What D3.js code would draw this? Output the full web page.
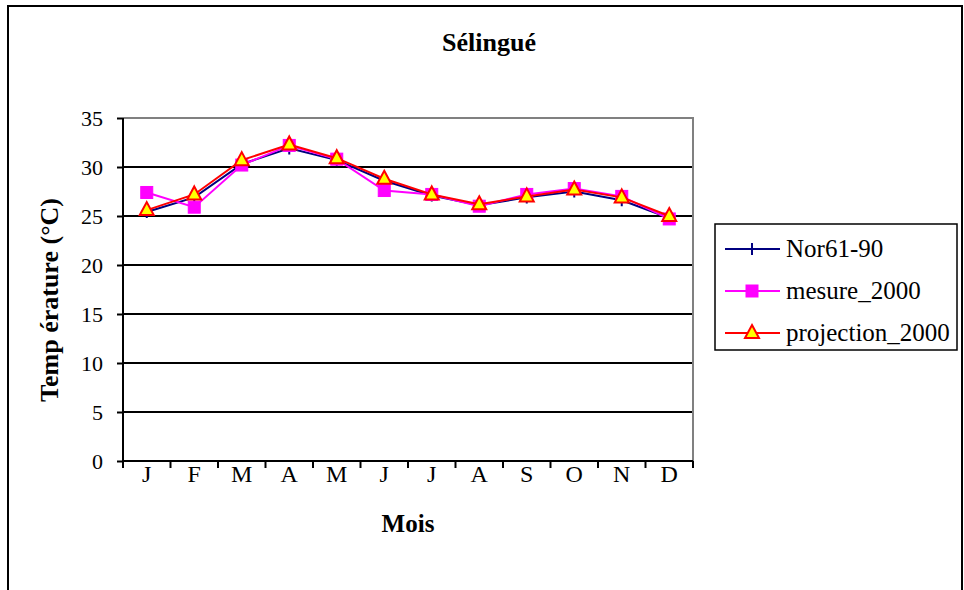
<!DOCTYPE html>
<html>
<head>
<meta charset="utf-8">
<script src="https://cdn.jsdelivr.net/npm/d3@7"></script>
<style>
  html, body { margin: 0; padding: 0; background: #fff; }
  svg { display: block; }
</style>
</head>
<body>
<svg id="chart" width="964" height="590"></svg>
<script>
// Monthly mean temperatures at Sélingué
const months = ["J", "F", "M", "A", "M", "J", "J", "A", "S", "O", "N", "D"];
const nor6190 = [25.4, 26.9, 30.3, 31.9, 30.7, 28.6, 27.1, 26.1, 26.9, 27.5, 26.6, 24.8];
const mesure2000 = [27.4, 25.9, 30.2, 32.2, 30.8, 27.6, 27.2, 26.0, 27.2, 27.8, 27.0, 24.7];
const projection2000 = [25.6, 27.2, 30.7, 32.3, 30.9, 28.8, 27.2, 26.2, 27.0, 27.7, 26.9, 25.0];
const yTicks = [0, 5, 10, 15, 20, 25, 30, 35];
const seriesNames = ["Nor61-90", "mesure_2000", "projection_2000"];

const FONT = '"Liberation Serif"';
const svg = d3.select("#chart");

// outer frame
svg.append("rect")
  .attr("x", 8).attr("y", 6).attr("width", 954).attr("height", 600)
  .attr("fill", "#fff").attr("stroke", "#000").attr("stroke-width", 2);

const plot = { left: 123, right: 693, top: 118, bottom: 461 };

const x = d3.scaleBand().domain(d3.range(months.length))
  .range([plot.left, plot.right]).padding(0);
const y = d3.scaleLinear().domain([0, 35]).range([plot.bottom, plot.top]);

// horizontal gridlines
svg.append("g").selectAll("line")
  .data(yTicks.filter(t => t > 0 && t < 35))
  .join("line")
  .attr("x1", plot.left).attr("x2", plot.right)
  .attr("y1", d => y(d)).attr("y2", d => y(d))
  .attr("stroke", "#000").attr("stroke-width", 2);

// grey plot-area border (top and right)
svg.append("path")
  .attr("d", `M${plot.left},${plot.top}H${plot.right}V${plot.bottom}`)
  .attr("fill", "none").attr("stroke", "#808080").attr("stroke-width", 2);

// y axis
const yAxis = d3.axisLeft(y).tickValues(yTicks).tickSize(6).tickPadding(14);
const gy = svg.append("g").attr("transform", `translate(${plot.left},0)`).call(yAxis);
gy.select(".domain").attr("stroke", "#000").attr("stroke-width", 2).attr("d", `M0,${plot.top}V${plot.bottom}`);
gy.selectAll(".tick line").attr("stroke", "#000").attr("stroke-width", 2);
gy.selectAll(".tick text")
  .attr("fill", "#000").attr("dy", "0.34em")
  .style("font-family", FONT).style("font-size", "22px");

// x axis: ticks sit at category boundaries
svg.append("line")
  .attr("x1", plot.left).attr("x2", plot.right)
  .attr("y1", plot.bottom).attr("y2", plot.bottom)
  .attr("stroke", "#000").attr("stroke-width", 2);
svg.append("g").selectAll("line")
  .data(d3.range(months.length + 1))
  .join("line")
  .attr("x1", d => d < months.length ? x(d) : plot.right)
  .attr("x2", d => d < months.length ? x(d) : plot.right)
  .attr("y1", plot.bottom).attr("y2", plot.bottom + 7)
  .attr("stroke", "#000").attr("stroke-width", 2);
svg.append("g").selectAll("text")
  .data(months)
  .join("text")
  .attr("x", (d, i) => x(i) + x.bandwidth() / 2)
  .attr("y", 482)
  .attr("text-anchor", "middle")
  .style("font-family", FONT).style("font-size", "24px")
  .text(d => d);

// titles
svg.append("text")
  .attr("x", 489).attr("y", 51)
  .attr("text-anchor", "middle")
  .style("font-family", FONT).style("font-size", "26px").style("font-weight", "bold")
  .text("Sélingué");
svg.append("text")
  .attr("x", (plot.left + plot.right) / 2).attr("y", 532)
  .attr("text-anchor", "middle")
  .style("font-family", FONT).style("font-size", "25px").style("font-weight", "bold")
  .text("Mois");
svg.append("text")
  .attr("transform", "translate(58,300) rotate(-90)")
  .attr("text-anchor", "middle")
  .style("font-family", FONT).style("font-size", "26px").style("font-weight", "bold")
  .text("Temp érature (°C)");

// series
const cx = i => x(i) + x.bandwidth() / 2;
const line = d3.line().x((d, i) => cx(i)).y(d => y(d));

const series = [
  { name: seriesNames[0], values: nor6190, color: "#000080", marker: "plus" },
  { name: seriesNames[1], values: mesure2000, color: "#ff00ff", marker: "square" },
  { name: seriesNames[2], values: projection2000, color: "#ff0000", marker: "triangle" }
];

function drawMarker(g, type, color) {
  if (type === "plus") {
    g.append("path").attr("d", "M-5,0H5M0,-6V6")
      .attr("stroke", color).attr("stroke-width", 2);
  } else if (type === "square") {
    g.append("rect").attr("x", -6).attr("y", -6).attr("width", 12).attr("height", 12)
      .attr("fill", color).attr("stroke", color).attr("stroke-width", 1);
  } else {
    g.append("path").attr("d", "M0,-8L7,5H-7Z")
      .attr("fill", "#ffff00").attr("stroke", color).attr("stroke-width", 2)
      .attr("stroke-linejoin", "miter");
  }
}

series.forEach(s => {
  const g = svg.append("g");
  g.append("path").datum(s.values)
    .attr("d", line).attr("fill", "none")
    .attr("stroke", s.color).attr("stroke-width", 2);
  g.selectAll("g.m").data(s.values).join("g")
    .attr("class", "m")
    .attr("transform", (d, i) => `translate(${cx(i)},${y(d)})`)
    .each(function () { drawMarker(d3.select(this), s.marker, s.color); });
});

// legend
const legend = svg.append("g");
legend.append("rect")
  .attr("x", 715).attr("y", 224).attr("width", 242).attr("height", 126)
  .attr("fill", "#fff").attr("stroke", "#000").attr("stroke-width", 1.5);
series.forEach((s, i) => {
  const ly = 249 + i * 42;
  legend.append("line")
    .attr("x1", 725).attr("x2", 780).attr("y1", ly).attr("y2", ly)
    .attr("stroke", s.color).attr("stroke-width", 2);
  const mg = legend.append("g").attr("transform", `translate(752,${ly})`);
  drawMarker(mg, s.marker, s.color);
  legend.append("text")
    .attr("x", 786).attr("y", ly + 8)
    .style("font-family", FONT).style("font-size", "25px")
    .text(s.name);
});
</script>
</body>
</html>
